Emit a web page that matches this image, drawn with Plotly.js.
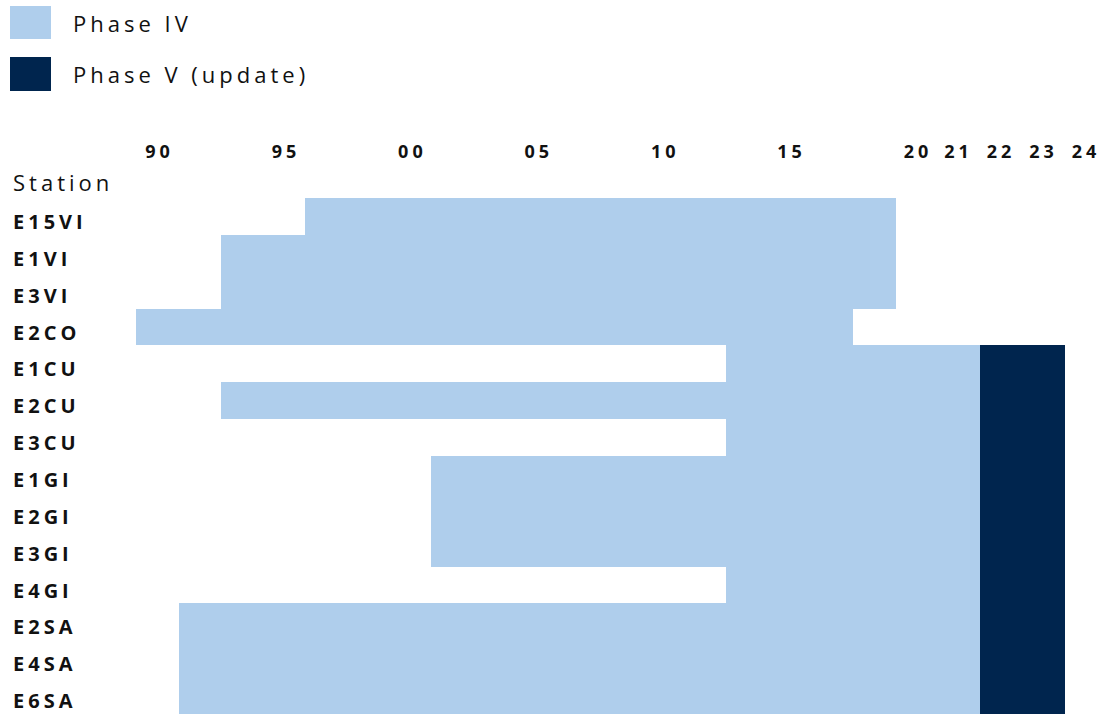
<!DOCTYPE html>
<html><head><meta charset="utf-8">
<script src="https://cdn.plot.ly/plotly-3.0.1.min.js"></script>
<style>
html,body{margin:0;padding:0;background:#fff;}
#chart{width:1102px;height:714px;}
.xtick text, .x2tick text { letter-spacing: 4px; }
.annotation-text { letter-spacing: 4px; }
</style></head><body><div id="chart"></div>
<script>
// ---- data ----
const stations = ["E15VI","E1VI","E3VI","E2CO","E1CU","E2CU","E3CU","E1GI","E2GI","E3GI","E4GI","E2SA","E4SA","E6SA"];
const phase4Start = [1995.84,1992.5,1992.5,1989.16,2012.5,1992.5,2012.5,2000.83,2000.83,2000.83,2012.5,1990.86,1990.86,1990.86];
const phase4End   = [2019.19,2019.19,2019.19,2017.52,2021.5,2021.5,2021.5,2021.5,2021.5,2021.5,2021.5,2021.5,2021.5,2021.5];
const phase5Start = [null,null,null,null,2021.5,2021.5,2021.5,2021.5,2021.5,2021.5,2021.5,2021.5,2021.5,2021.5];
const phase5End   = [null,null,null,null,2023.5,2023.5,2023.5,2023.5,2023.5,2023.5,2023.5,2023.5,2023.5,2023.5];
const tickYearsA = [1990,1995,2000,2005,2010,2015,2020];
const tickLabelsA = ["90","95","00","05","10","15","20"];
const tickYearsB = [2021,2022,2023,2024];
const tickLabelsB = ["21","22","23","24"];
const seriesNames = ["Phase IV","Phase V (update)"];
const headerLabel = "Station";
const BREAK_YEAR = 2020;   // axis scale changes here

// ---- styling ----
const W = 1102, H = 714, TOP = 198;
const LIGHT = "#AFCEEC", DARK = "#00254E", INK = "#111111";
const FONT = "Open Sans";
const px = x => x / W;
const py = y => (H - y) / (H - TOP);
const pxPerYearA = 25.28, pxPerYearB = 42.5, breakPx = 916;

function segs(starts, ends) {
  const a = {base:[], len:[]}, b = {base:[], len:[]};
  starts.forEach((s, i) => {
    const e = ends[i];
    if (s == null) { a.base.push(null); a.len.push(null); b.base.push(null); b.len.push(null); return; }
    if (s < BREAK_YEAR) { const ee = Math.min(e, BREAK_YEAR); a.base.push(s); a.len.push(ee - s); }
    else { a.base.push(null); a.len.push(null); }
    if (e > BREAK_YEAR) { const ss = Math.max(s, BREAK_YEAR); b.base.push(ss); b.len.push(e - ss); }
    else { b.base.push(null); b.len.push(null); }
  });
  return [a, b];
}

const traces = [];
[[phase4Start, phase4End, LIGHT, seriesNames[0]], [phase5Start, phase5End, DARK, seriesNames[1]]].forEach(([s, e, c, n]) => {
  const [a, b] = segs(s, e);
  [[a, 'x'], [b, 'x2']].forEach(([sg, ax]) => {
    traces.push({type:'bar', orientation:'h', name:n, y:stations, x:sg.len, base:sg.base,
      xaxis:ax, yaxis:'y', width:1, marker:{color:c, line:{width:0}}, showlegend:false, hoverinfo:'skip'});
  });
});

const tickFont = {family:FONT, size:18, weight:700, color:INK};
const rangeA = [BREAK_YEAR - breakPx / pxPerYearA, BREAK_YEAR];
const rangeB = [BREAK_YEAR, BREAK_YEAR + (W - breakPx) / pxPerYearB];

const annotations = stations.map(s => ({xref:'paper', yref:'y', x:px(11), y:s, xanchor:'left', yanchor:'middle',
  text:s, showarrow:false, yshift:-5, font:{family:FONT, size:20, weight:700, color:INK}}));
annotations.push({xref:'paper', yref:'paper', x:px(11), y:py(182), xanchor:'left', yanchor:'middle',
  text:headerLabel, showarrow:false, font:{family:FONT, size:22, color:INK}});
annotations.push({xref:'paper', yref:'paper', x:px(71), y:py(22.5), xanchor:'left', yanchor:'middle',
  text:seriesNames[0], showarrow:false, font:{family:FONT, size:22, color:INK}});
annotations.push({xref:'paper', yref:'paper', x:px(71), y:py(74), xanchor:'left', yanchor:'middle',
  text:seriesNames[1], showarrow:false, font:{family:FONT, size:22, color:INK}});

const shapes = [
  {type:'rect', xref:'paper', yref:'paper', x0:px(10), x1:px(51), y0:py(39), y1:py(6), fillcolor:LIGHT, line:{width:0}},
  {type:'rect', xref:'paper', yref:'paper', x0:px(10), x1:px(51), y0:py(91), y1:py(57), fillcolor:DARK, line:{width:0}}
];

const layout = {
  width:W, height:H, margin:{l:0, r:0, t:TOP, b:0},
  paper_bgcolor:'#fff', plot_bgcolor:'rgba(0,0,0,0)',
  barmode:'overlay', bargap:0, showlegend:false,
  xaxis:{domain:[0, breakPx / W], range:rangeA, side:'top', anchor:'y', tickmode:'array', tickvals:tickYearsA, ticktext:tickLabelsA,
    ticks:'', ticklabelstandoff:35, ticklabelshift:2, tickfont:tickFont, showgrid:false, zeroline:false, showline:false, fixedrange:true},
  xaxis2:{domain:[breakPx / W, 1], range:rangeB, side:'top', anchor:'y', tickmode:'array', tickvals:tickYearsB, ticktext:tickLabelsB,
    ticks:'', ticklabelstandoff:35, tickfont:tickFont, showgrid:false, zeroline:false, showline:false, fixedrange:true},
  yaxis:{type:'category', categoryorder:'array', categoryarray:stations, range:[stations.length - 0.5, -0.5],
    showticklabels:false, ticks:'', showgrid:false, zeroline:false, showline:false, fixedrange:true},
  annotations, shapes
};

Plotly.newPlot('chart', traces, layout, {displayModeBar:false, staticPlot:true});
</script></body></html>
